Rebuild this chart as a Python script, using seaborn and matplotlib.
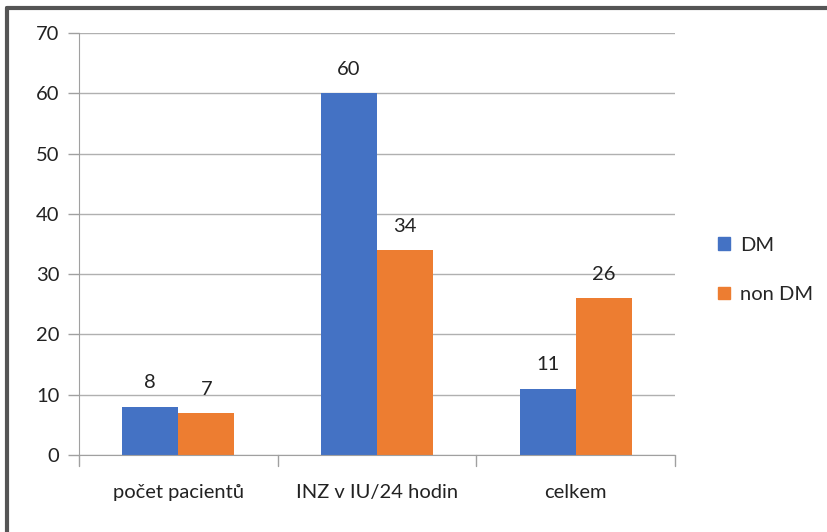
import matplotlib
matplotlib.use("Agg")
import matplotlib.pyplot as plt
import seaborn as sns
import pandas as pd
from matplotlib.patches import Rectangle
from matplotlib.lines import Line2D

categories = ["počet pacientů", "INZ v IU/24 hodin", "celkem"]
dm_values = [8, 60, 11]
non_dm_values = [7, 34, 26]
series = ["DM", "non DM"]
colors = ["#4472C4", "#ED7D31"]
yticks = [0, 10, 20, 30, 40, 50, 60, 70]

df = pd.DataFrame({
    "cat": categories * 2,
    "val": dm_values + non_dm_values,
    "series": [series[0]] * 3 + [series[1]] * 3,
})

sns.set_style("white")
plt.rcParams["font.family"] = ["Lato", "DejaVu Sans"]
FS = 14.5

fig = plt.figure(figsize=(8.28, 5.32), dpi=100)
ax = fig.add_axes([79/828, 77/532, (675-79)/828, (455-33)/532])

sns.barplot(data=df, x="cat", y="val", hue="series", palette=colors,
            width=0.565, saturation=1, ax=ax, legend=False, linewidth=0,
            edgecolor="none")

ax.set_ylim(0, 70)
ax.set_xlim(-0.5, 2.5)
ax.set_yticks(yticks)
ax.set_yticklabels([str(t) for t in yticks], fontsize=FS, color="#222222")
ax.yaxis.grid(True, color="#B0B0B0", linewidth=1)
ax.set_axisbelow(True)
ax.set_xlabel("")
ax.set_ylabel("")
ax.set_xticks([0, 1, 2])
ax.set_xticklabels(categories, fontsize=FS, color="#222222")
ax.tick_params(axis="x", length=0, pad=21)
ax.tick_params(axis="y", length=8, color="#A0A0A0", width=1, direction="out", left=True, pad=6)
for b in [-0.5, 0.5, 1.5, 2.5]:
    ax.plot([b, b], [0, -0.027], transform=ax.get_xaxis_transform(), color="#A0A0A0",
            lw=1, clip_on=False)
for s in ["top", "right"]:
    ax.spines[s].set_visible(False)
ax.spines["left"].set_color("#A0A0A0")
ax.spines["bottom"].set_color("#A0A0A0")

for cont in ax.containers:
    ax.bar_label(cont, labels=[f"{int(v)}" for v in cont.datavalues], padding=11,
                 fontsize=FS, color="#222222")

handles = [Rectangle((0, 0), 1, 1, color=c) for c in colors]
fig.legend(handles, series, loc="center left", bbox_to_anchor=(700/828, 1 - 270/532),
           frameon=False, fontsize=FS, handlelength=0.6, handleheight=0.6,
           labelspacing=1.6, handletextpad=0.5)

# outer frame (dark border at top and left)
fig.add_artist(Line2D([7/828, 7/828], [0, 1 - 8/532], transform=fig.transFigure,
                      color="#555555", lw=3))
fig.add_artist(Line2D([7/828, 1], [1 - 8/532, 1 - 8/532], transform=fig.transFigure,
                      color="#555555", lw=3))

fig.savefig("out.png", dpi=100)
